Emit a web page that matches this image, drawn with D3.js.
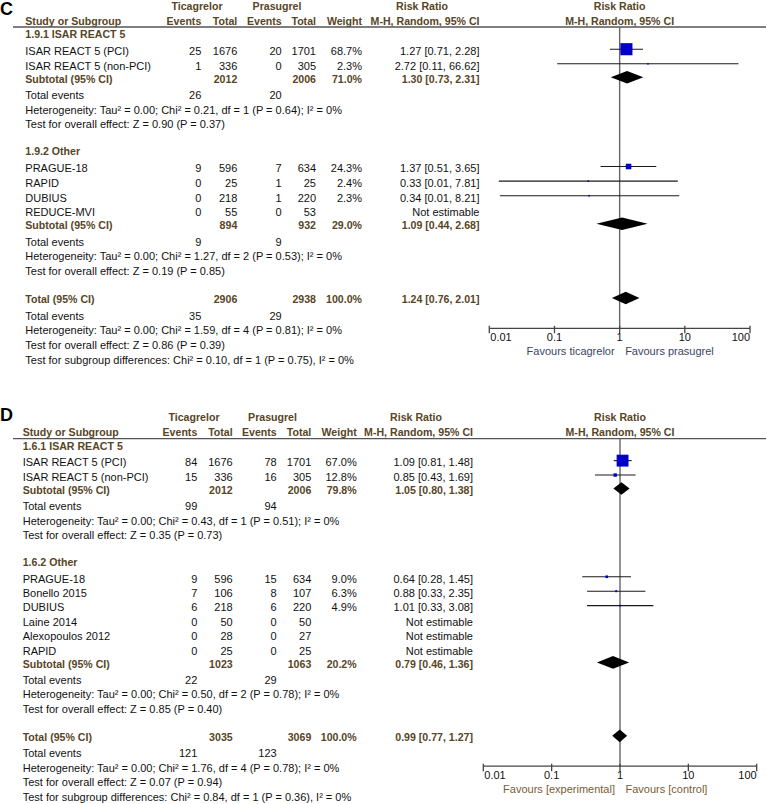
<!DOCTYPE html>
<html><head><meta charset="utf-8">
<script src="https://cdn.jsdelivr.net/npm/d3@7"></script>
<style>
body{margin:0;background:#fff}
svg{display:block}
text{font-family:"Liberation Sans",Arial,sans-serif;font-size:11px;fill:#111}
</style>
</head><body><svg id="chart" width="767" height="804"></svg>
<script>
// ---------- shared labels ----------
const headerGroups = ["Ticagrelor", "Prasugrel"];
const columnLabels = ["Study or Subgroup", "Events", "Total", "Events", "Total", "Weight"];
const effectLabels = ["Risk Ratio", "M-H, Random, 95% CI"];
const axisTicks = [0.01, 0.1, 1, 10, 100];
const axisTickLabels = ["0.01", "0.1", "1", "10", "100"];

// ---------- Panel C ----------
const cGroupNames = ["1.9.1 ISAR REACT 5", "1.9.2 Other"];
const cStudyNames = ["ISAR REACT 5 (PCI)", "ISAR REACT 5 (non-PCI)", "PRAGUE-18", "RAPID", "DUBIUS", "REDUCE-MVI"];
const cStudyGroup = [0, 0, 1, 1, 1, 1];
const cTicEvents = [25, 1, 9, 0, 0, 0];
const cTicTotal = [1676, 336, 596, 25, 218, 55];
const cPrasEvents = [20, 0, 7, 1, 1, 0];
const cPrasTotal = [1701, 305, 634, 25, 220, 53];
const cWeight = [68.7, 2.3, 24.3, 2.4, 2.3, null];
const cRR = [1.27, 2.72, 1.37, 0.33, 0.34, null];
const cLower = [0.71, 0.11, 0.51, 0.014, 0.0145, null];
const cUpper = [2.28, 66.62, 3.65, 7.81, 8.21, null];
const cSubTicEvents = [26, 9];
const cSubTicTotal = [2012, 894];
const cSubPrasEvents = [20, 9];
const cSubPrasTotal = [2006, 932];
const cSubWeight = [71.0, 29.0];
const cSubRR = [1.30, 1.09];
const cSubLower = [0.73, 0.44];
const cSubUpper = [2.31, 2.68];
const cSubTau2 = [0.00, 0.00];
const cSubChi2 = [0.21, 1.27];
const cSubDf = [1, 2];
const cSubHetP = [0.64, 0.53];
const cSubI2 = [0, 0];
const cSubZ = [0.90, 0.19];
const cSubZP = [0.37, 0.85];
const cTotalEvents = [35, 29];
const cTotalN = [2906, 2938];
const cTotalEffect = [1.24, 0.76, 2.01];
const cTotalHet = [0.00, 1.59, 4, 0.81, 0];
const cTotalZ = [0.86, 0.39];
const cSubgroupDiff = [0.10, 1, 0.75, 0];
const cFavours = ["Favours ticagrelor", "Favours prasugrel"];

// ---------- Panel D ----------
const dGroupNames = ["1.6.1 ISAR REACT 5", "1.6.2 Other"];
const dStudyNames = ["ISAR REACT 5 (PCI)", "ISAR REACT 5 (non-PCI)", "PRAGUE-18", "Bonello 2015", "DUBIUS", "Laine 2014", "Alexopoulos 2012", "RAPID"];
const dStudyGroup = [0, 0, 1, 1, 1, 1, 1, 1];
const dTicEvents = [84, 15, 9, 7, 6, 0, 0, 0];
const dTicTotal = [1676, 336, 596, 106, 218, 50, 28, 25];
const dPrasEvents = [78, 16, 15, 8, 6, 0, 0, 0];
const dPrasTotal = [1701, 305, 634, 107, 220, 50, 27, 25];
const dWeight = [67.0, 12.8, 9.0, 6.3, 4.9, null, null, null];
const dRR = [1.09, 0.85, 0.64, 0.88, 1.01, null, null, null];
const dLower = [0.81, 0.43, 0.28, 0.33, 0.33, null, null, null];
const dUpper = [1.48, 1.69, 1.45, 2.35, 3.08, null, null, null];
const dSubTicEvents = [99, 22];
const dSubTicTotal = [2012, 1023];
const dSubPrasEvents = [94, 29];
const dSubPrasTotal = [2006, 1063];
const dSubWeight = [79.8, 20.2];
const dSubRR = [1.05, 0.79];
const dSubLower = [0.80, 0.46];
const dSubUpper = [1.38, 1.36];
const dSubTau2 = [0.00, 0.00];
const dSubChi2 = [0.43, 0.50];
const dSubDf = [1, 2];
const dSubHetP = [0.51, 0.78];
const dSubI2 = [0, 0];
const dSubZ = [0.35, 0.85];
const dSubZP = [0.73, 0.40];
const dTotalEvents = [121, 123];
const dTotalN = [3035, 3069];
const dTotalEffect = [0.99, 0.77, 1.27];
const dTotalHet = [0.00, 1.76, 4, 0.78, 0];
const dTotalZ = [0.07, 0.94];
const dSubgroupDiff = [0.84, 1, 0.36, 0];
const dFavours = ["Favours [experimental]", "Favours [control]"];

// ---------- build panel tables from the arrays ----------
function makePanel(p) {
  return {
    groups: p.groupNames.map((name, g) => ({
      name,
      studies: p.studyNames.map((s, i) => ({
        name: s, te: p.te[i], tt: p.tt[i], pe: p.pe[i], pt: p.pt[i],
        w: p.w[i], rr: p.rr[i], lo: p.lo[i], hi: p.hi[i], g: p.sg[i]
      })).filter(s => s.g === g),
      sub: { te: p.subTE[g], tt: p.subTT[g], pe: p.subPE[g], pt: p.subPT[g], w: p.subW[g],
             rr: p.subRR[g], lo: p.subLo[g], hi: p.subHi[g],
             tau2: p.subTau2[g], chi2: p.subChi2[g], df: p.subDf[g], hp: p.subHetP[g], i2: p.subI2[g],
             z: p.subZ[g], zp: p.subZP[g] }
    })),
    total: { te: p.totE[0], pe: p.totE[1], tt: p.totN[0], pt: p.totN[1], w: 100.0,
             rr: p.totEff[0], lo: p.totEff[1], hi: p.totEff[2],
             tau2: p.totHet[0], chi2: p.totHet[1], df: p.totHet[2], hp: p.totHet[3], i2: p.totHet[4],
             z: p.totZ[0], zp: p.totZ[1] },
    diff: p.diff,
    favours: p.favours
  };
}

const panelC = makePanel({
  groupNames: cGroupNames, studyNames: cStudyNames, sg: cStudyGroup,
  te: cTicEvents, tt: cTicTotal, pe: cPrasEvents, pt: cPrasTotal, w: cWeight, rr: cRR, lo: cLower, hi: cUpper,
  subTE: cSubTicEvents, subTT: cSubTicTotal, subPE: cSubPrasEvents, subPT: cSubPrasTotal, subW: cSubWeight,
  subRR: cSubRR, subLo: cSubLower, subHi: cSubUpper, subTau2: cSubTau2, subChi2: cSubChi2, subDf: cSubDf,
  subHetP: cSubHetP, subI2: cSubI2, subZ: cSubZ, subZP: cSubZP,
  totE: cTotalEvents, totN: cTotalN, totEff: cTotalEffect, totHet: cTotalHet, totZ: cTotalZ,
  diff: cSubgroupDiff, favours: cFavours
});
const panelD = makePanel({
  groupNames: dGroupNames, studyNames: dStudyNames, sg: dStudyGroup,
  te: dTicEvents, tt: dTicTotal, pe: dPrasEvents, pt: dPrasTotal, w: dWeight, rr: dRR, lo: dLower, hi: dUpper,
  subTE: dSubTicEvents, subTT: dSubTicTotal, subPE: dSubPrasEvents, subPT: dSubPrasTotal, subW: dSubWeight,
  subRR: dSubRR, subLo: dSubLower, subHi: dSubUpper, subTau2: dSubTau2, subChi2: dSubChi2, subDf: dSubDf,
  subHetP: dSubHetP, subI2: dSubI2, subZ: dSubZ, subZP: dSubZP,
  totE: dTotalEvents, totN: dTotalN, totEff: dTotalEffect, totHet: dTotalHet, totZ: dTotalZ,
  diff: dSubgroupDiff, favours: dFavours
});

// ---------- layout & style (code, not data) ----------
const BROWN = "#574526";
const BLUE = "#0000c8";
const BOLD_SIZE = "10.6px";
const layouts = [
  { data: panelC, label: "C", labelY: 15, hdr1Y: 10.3, hdr2Y: 24.5, lineY: 27, k: 1.0,
    xName: 25.3, xTE: 201.3, xTT: 237.3, xPE: 281.7, xPT: 316, xW: 362, xRR: 479.5,
    ticC: 197, prasC: 277, rrHdrC: 422, plot: [489.3, 750], favColor: "#3b4563" },
  { data: panelD, label: "D", labelY: 420.7, hdr1Y: 420.5, hdr2Y: 436, lineY: 438.7, k: 0.99,
    xName: 22.7, xTE: 197.3, xTT: 232.7, xPE: 276.7, xPT: 311.3, xW: 356.7, xRR: 473,
    ticC: 194, prasC: 272.5, rrHdrC: 416, plot: [483.3, 756.7], favColor: "#7a5c35" }
];

const steps = {
  "line>group": 11, "group>study": 17, "study>study": 14.6, "study>subtotal": 13,
  "subtotal>events": 16.5, "events>het": 14.6, "het>effect": 14.6, "effect>group": 27,
  "effect>total": 28.5, "total>events": 16.3, "effect>sgdiff": 15.2
};

const svg = d3.select("#chart");
const fmt2 = d3.format(".2f");
const fmtW = d => d.toFixed(1) + "%";
const rrText = (rr, lo, hi) => `${fmt2(rr)} [${fmt2(lo)}, ${fmt2(hi)}]`;
const hetText = s => `Heterogeneity: Tau\u00B2 = ${fmt2(s.tau2)}; Chi\u00B2 = ${fmt2(s.chi2)}, df = ${s.df} (P = ${fmt2(s.hp)}); I\u00B2 = ${s.i2}%`;
const effText = s => `Test for overall effect: Z = ${fmt2(s.z)} (P = ${fmt2(s.zp)})`;
const diffText = d => `Test for subgroup differences: Chi\u00B2 = ${fmt2(d[0])}, df = ${d[1]} (P = ${fmt2(d[2])}), I\u00B2 = ${d[3]}%`;

function txt(g, x, y, s, opt = {}) {
  return g.append("text").attr("x", x).attr("y", y).text(s)
    .attr("text-anchor", opt.anchor || "start")
    .style("font-weight", opt.bold ? "bold" : null)
    .style("fill", opt.color || null)
    .style("font-size", opt.size || (opt.bold ? BOLD_SIZE : null));
}

layouts.forEach(L => {
  const P = L.data;
  const g = svg.append("g");
  const x = d3.scaleLog().domain([0.01, 100]).range(L.plot);
  const cx = x(1);

  // rows
  const rows = [];
  P.groups.forEach(gr => {
    rows.push({ type: "group", gr });
    gr.studies.forEach(s => rows.push({ type: "study", s }));
    rows.push({ type: "subtotal", s: gr.sub });
    rows.push({ type: "events", s: gr.sub });
    rows.push({ type: "het", s: gr.sub });
    rows.push({ type: "effect", s: gr.sub });
  });
  rows.push({ type: "total", s: P.total });
  rows.push({ type: "events", s: P.total });
  rows.push({ type: "het", s: P.total });
  rows.push({ type: "effect", s: P.total });
  rows.push({ type: "sgdiff" });
  let prev = "line", y = L.lineY;
  rows.forEach(r => { y += steps[prev + ">" + r.type] * L.k; r.y = y; prev = r.type; });
  const totalRow = rows.find(r => r.type === "total");
  const axisY = totalRow.y + 25;

  // panel label
  txt(g, 0, L.labelY, L.label, { bold: true, size: "18px", color: "#000" });

  // headers
  txt(g, L.ticC, L.hdr1Y, headerGroups[0], { anchor: "middle", bold: true, color: BROWN });
  txt(g, L.prasC, L.hdr1Y, headerGroups[1], { anchor: "middle", bold: true, color: BROWN });
  txt(g, L.rrHdrC, L.hdr1Y, effectLabels[0], { anchor: "middle", bold: true, color: BROWN });
  txt(g, cx, L.hdr1Y, effectLabels[0], { anchor: "middle", bold: true, color: BROWN });
  txt(g, L.xName, L.hdr2Y, columnLabels[0], { bold: true, color: BROWN });
  [L.xTE, L.xTT, L.xPE, L.xPT, L.xW].forEach((xx, i) =>
    txt(g, xx, L.hdr2Y, columnLabels[i + 1], { anchor: "end", bold: true, color: BROWN }));
  txt(g, L.xRR, L.hdr2Y, effectLabels[1], { anchor: "end", bold: true, color: BROWN });
  txt(g, cx, L.hdr2Y, effectLabels[1], { anchor: "middle", bold: true, color: BROWN });

  // header rule
  g.append("line").attr("x1", 13).attr("x2", 766).attr("y1", L.lineY).attr("y2", L.lineY)
    .attr("stroke", "#555").attr("stroke-width", 1.3);

  // null line
  g.append("line").attr("x1", cx).attr("x2", cx).attr("y1", L.lineY).attr("y2", axisY)
    .attr("stroke", "#666").attr("stroke-width", 1.4);

  rows.forEach(r => {
    const yy = r.y;
    if (r.type === "group") {
      txt(g, L.xName, yy, r.gr.name, { bold: true, color: BROWN });
    } else if (r.type === "study") {
      const s = r.s;
      txt(g, L.xName, yy, s.name);
      txt(g, L.xTE, yy, s.te, { anchor: "end" });
      txt(g, L.xTT, yy, s.tt, { anchor: "end" });
      txt(g, L.xPE, yy, s.pe, { anchor: "end" });
      txt(g, L.xPT, yy, s.pt, { anchor: "end" });
      if (s.w != null) txt(g, L.xW, yy, fmtW(s.w), { anchor: "end" });
      if (s.rr != null) {
        txt(g, L.xRR, yy, rrText(s.rr, s.lo, s.hi), { anchor: "end" });
        const my = yy - 5.8;
        g.append("line").attr("x1", x(Math.max(s.lo, 0.01))).attr("x2", x(Math.min(s.hi, 100)))
          .attr("y1", my).attr("y2", my).attr("stroke", "#1a1a1a").attr("stroke-width", 1.1);
        const side = Math.max(1.6, 12 * Math.pow(s.w / 68, 0.75));
        g.append("rect").attr("x", x(s.rr) - side / 2).attr("y", my - side / 2)
          .attr("width", side).attr("height", side).attr("fill", BLUE);
      } else {
        txt(g, L.xRR, yy, "Not estimable", { anchor: "end" });
      }
    } else if (r.type === "subtotal" || r.type === "total") {
      const s = r.s;
      txt(g, L.xName, yy, r.type === "subtotal" ? "Subtotal (95% CI)" : "Total (95% CI)", { bold: true, color: BROWN });
      txt(g, L.xTT, yy, s.tt, { anchor: "end", bold: true, color: BROWN });
      txt(g, L.xPT, yy, s.pt, { anchor: "end", bold: true, color: BROWN });
      txt(g, L.xW, yy, fmtW(s.w), { anchor: "end", bold: true, color: BROWN });
      txt(g, L.xRR, yy, rrText(s.rr, s.lo, s.hi), { anchor: "end", bold: true, color: BROWN });
      const my = yy - 5.3, h = 6.3;
      g.append("path")
        .attr("d", `M${x(s.lo)},${my}L${x(s.rr)},${my - h}L${x(s.hi)},${my}L${x(s.rr)},${my + h}Z`)
        .attr("fill", "#000");
    } else if (r.type === "events") {
      txt(g, L.xName, yy, "Total events");
      txt(g, L.xTE, yy, r.s.te, { anchor: "end" });
      txt(g, L.xPE, yy, r.s.pe, { anchor: "end" });
    } else if (r.type === "het") {
      txt(g, L.xName, yy, hetText(r.s));
    } else if (r.type === "effect") {
      txt(g, L.xName, yy, effText(r.s));
    } else if (r.type === "sgdiff") {
      txt(g, L.xName, yy, diffText(P.diff));
    }
  });

  // axis
  const ax = g.append("g");
  ax.append("line").attr("x1", L.plot[0]).attr("x2", L.plot[1]).attr("y1", axisY).attr("y2", axisY)
    .attr("stroke", "#444").attr("stroke-width", 1.3);
  axisTicks.forEach((t, i) => {
    ax.append("line").attr("x1", x(t)).attr("x2", x(t)).attr("y1", axisY - 2.5).attr("y2", axisY + 5)
      .attr("stroke", "#444").attr("stroke-width", 1.3);
    const anchor = i === 0 ? "start" : (i === axisTicks.length - 1 ? "end" : "middle");
    txt(ax, x(t) + (i === 0 ? 1 : 0), axisY + 13, axisTickLabels[i], { anchor });
  });
  txt(g, cx - 5, axisY + 27, P.favours[0], { anchor: "end", color: L.favColor });
  txt(g, cx + 5.5, axisY + 27, P.favours[1], { color: L.favColor });
});
</script>
</body></html>
